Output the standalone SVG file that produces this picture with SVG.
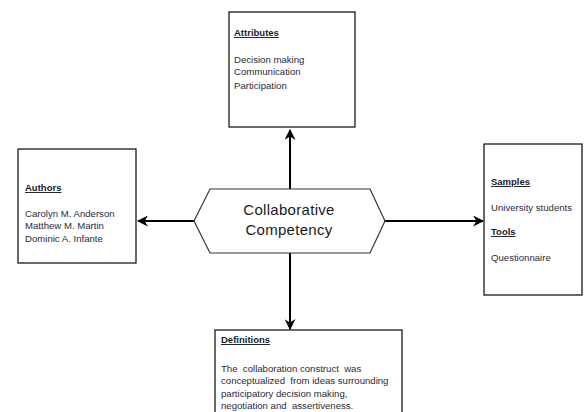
<svg xmlns="http://www.w3.org/2000/svg" width="585" height="412" viewBox="0 0 585 412">
  <style>
    .box { fill: #fff; stroke: #1a1a1a; stroke-width: 1.3; }
    .hex { fill: #fff; stroke: #333; stroke-width: 1.2; }
    .conn { stroke: #000; stroke-width: 2; fill: none; }
    .head { font-family: "Liberation Sans", Arial, sans-serif; font-size: 9.5px; font-weight: bold; fill: #1a1a2a; text-decoration: underline; }
    .body { font-family: "Liberation Sans", Arial, sans-serif; font-size: 9.6px; fill: #2a2a3a; white-space: pre; }
    .title { font-family: "Liberation Sans", Arial, sans-serif; font-size: 15px; fill: #1a1a1a; text-anchor: middle; letter-spacing: 0.3px; }
  </style>
  <defs>
    <marker id="arrow" viewBox="0 0 10 10" refX="9" refY="5" markerWidth="5.5" markerHeight="5.5" orient="auto" markerUnits="strokeWidth">
      <path d="M0,0 L10,5 L0,10 L3,5 Z" fill="#000"/>
    </marker>
  </defs>
  <rect width="585" height="412" fill="#fff"/>

  <g id="connectors">
    <line class="conn" x1="290" y1="189" x2="290" y2="130" marker-end="url(#arrow)"/>
    <line class="conn" x1="194" y1="221" x2="138" y2="221" marker-end="url(#arrow)"/>
    <line class="conn" x1="385" y1="221" x2="483" y2="221" marker-end="url(#arrow)"/>
    <line class="conn" x1="290" y1="253" x2="290" y2="329" marker-end="url(#arrow)"/>
  </g>

  <g id="attributes">
    <rect class="box" x="229" y="12" width="126" height="115"/>
    <text class="head" x="234" y="36">Attributes</text>
    <text class="body" x="234" y="63">Decision making</text>
    <text class="body" x="234" y="75">Communication</text>
    <text class="body" x="234" y="89">Participation</text>
  </g>

  <g id="authors">
    <rect class="box" x="18" y="149" width="118" height="114"/>
    <text class="head" x="25" y="191">Authors</text>
    <text class="body" x="25" y="217">Carolyn M. Anderson</text>
    <text class="body" x="25" y="229">Matthew M. Martin</text>
    <text class="body" x="25" y="242">Dominic A. Infante</text>
  </g>

  <g id="center">
    <polygon class="hex" points="194,221 210,189 370,189 385,221 370,253 210,253"/>
    <text class="title" x="289" y="215">Collaborative</text>
    <text class="title" x="289" y="235">Competency</text>
  </g>

  <g id="samples">
    <rect class="box" x="484" y="144" width="98" height="151"/>
    <text class="head" x="491" y="185">Samples</text>
    <text class="body" x="491" y="211">University students</text>
    <text class="head" x="491" y="235">Tools</text>
    <text class="body" x="491" y="261">Questionnaire</text>
  </g>

  <g id="definitions">
    <rect class="box" x="215" y="330" width="187" height="90"/>
    <text class="head" x="221" y="343">Definitions</text>
    <text class="body" x="221" y="372">The  collaboration construct  was</text>
    <text class="body" x="221" y="384">conceptualized  from ideas surrounding</text>
    <text class="body" x="221" y="397">participatory decision making,</text>
    <text class="body" x="221" y="409">negotiation and  assertiveness.</text>
  </g>
</svg>
